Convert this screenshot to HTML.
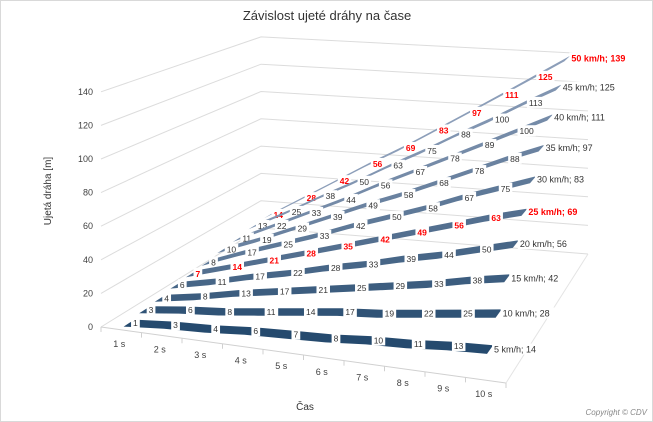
<!DOCTYPE html>
<html><head><meta charset="utf-8"><style>
html,body{margin:0;padding:0;background:#fff;}
#wrap{position:relative;width:651px;height:420px;border:1px solid #d9d9d9;overflow:hidden;font-family:"Liberation Sans",sans-serif;}
svg{position:absolute;left:0;top:0;}
</style></head><body>
<div id="wrap">
<svg id="chart" width="653" height="422">
<text x="326" y="19" text-anchor="middle" font-size="13" fill="#333">Závislost ujeté dráhy na čase</text>
<text transform="translate(50,190) rotate(-90)" text-anchor="middle" font-size="10" fill="#333">Ujetá dráha [m]</text>
<text x="304" y="409" text-anchor="middle" font-size="10" fill="#333">Čas</text>
<text x="646" y="414" text-anchor="end" font-size="8" font-style="italic" fill="#888">Copyright © CDV</text>
</svg>
</div>
<script>
const categories = ["1 s","2 s","3 s","4 s","5 s","6 s","7 s","8 s","9 s","10 s"];
const seriesNames = ["5 km/h","10 km/h","15 km/h","20 km/h","25 km/h","30 km/h","35 km/h","40 km/h","45 km/h","50 km/h"];
const s5  = [1,3,4,6,7,8,10,11,13,14];
const s10 = [3,6,8,11,14,17,19,22,25,28];
const s15 = [4,8,13,17,21,25,29,33,38,42];
const s20 = [6,11,17,22,28,33,39,44,50,56];
const s25 = [7,14,21,28,35,42,49,56,63,69];
const s30 = [8,17,25,33,42,50,58,67,75,83];
const s35 = [10,19,29,39,49,58,68,78,88,97];
const s40 = [11,22,33,44,56,67,78,89,100,111];
const s45 = [13,25,38,50,63,75,88,100,113,125];
const s50 = [14,28,42,56,69,83,97,111,125,139];
const yTicks = [0,20,40,60,80,100,120,140];
const redSeries = [4,9];
const allSeries = [s5,s10,s15,s20,s25,s30,s35,s40,s45,s50];

const svg = document.getElementById('chart');
const NS = 'http://www.w3.org/2000/svg';
const FL=[100,326], FR=[505,382], BL=[260,227], BR=[587,253];
const kFL=1.68,kFR=1.75,kBL=1.365,kBR=1.43;
const yMax=140;
function lerp(a,b,t){return [a[0]+(b[0]-a[0])*t,a[1]+(b[1]-a[1])*t];}
function P(u,w,v){
  const A=lerp(FL,FR,u),B=lerp(BL,BR,u),b=lerp(A,B,w);
  const kA=kFL+(kFR-kFL)*u,kB=kBL+(kBR-kBL)*u,k=kA+(kB-kA)*w;
  return [b[0],b[1]-v*k];
}
function mk(tag,attrs){const e=document.createElementNS(NS,tag);for(const a in attrs)e.setAttribute(a,attrs[a]);svg.appendChild(e);return e;}
const gridG=document.createElementNS(NS,'g');svg.appendChild(gridG);
// gridlines (left wall + back wall)
yTicks.forEach(v=>{
  const a=P(0,0,v),b=P(0,1,v),c=P(1,1,v);
  const pl=document.createElementNS(NS,'polyline');
  pl.setAttribute('points',`${a[0]},${a[1]} ${b[0]},${b[1]} ${c[0]},${c[1]}`);
  pl.setAttribute('fill','none');pl.setAttribute('stroke','#dcdcdc');pl.setAttribute('stroke-width','1');
  
  
  gridG.appendChild(pl);
  const t=document.createElementNS(NS,'text');
  t.setAttribute('x',a[0]-8);t.setAttribute('y',a[1]+3);t.setAttribute('text-anchor','end');
  t.setAttribute('font-size','9');t.setAttribute('fill','#404040');t.textContent=v;
  
  
  gridG.appendChild(t);
});
// floor front edge + ticks + category labels
const fe=mk('line',{x1:FL[0],y1:FL[1],x2:FR[0],y2:FR[1],stroke:'#d0d0d0'});


const fr=P(1,0,0),brr=P(1,1,0);
const re=mk('line',{x1:fr[0],y1:fr[1],x2:brr[0],y2:brr[1],stroke:'#e4e4e4'});


for(let i=0;i<=categories.length;i++){
  const p=P(i/categories.length,0,0);
  const tk=mk('line',{x1:p[0],y1:p[1],x2:p[0],y2:p[1]+5,stroke:'#d0d0d0'});
  
  
}
categories.forEach((c,i)=>{
  const p=P((i+0.5)/categories.length,0,0);
  const t=mk('text',{x:p[0]-2,y:p[1]+17,'text-anchor':'middle','font-size':'9',fill:'#404040'});
  t.textContent=c;
  
  
});
// series, back to front
const n=allSeries.length;
function col(j){const a=[37,74,110],b=[140,158,185],t=j/(n-1);return `rgb(${a.map((x,q)=>Math.round(x+(b[q]-x)*t)).join(',')})`;}
const d=0.035;
for(let j=n-1;j>=0;j--){
  const vals=allSeries[j],w=(j+0.5)/n,m=vals.length;
  const g=document.createElementNS(NS,'g');svg.appendChild(g);
  
  
  const front=[],back=[];
  vals.forEach((v,i)=>{const u=(i+0.5)/m;front.push(P(u,w-d,v));back.push(P(u,w+d,v));});
  const pts=front.concat(back.reverse()).map(p=>p[0].toFixed(1)+','+p[1].toFixed(1)).join(' ');
  const poly=document.createElementNS(NS,'polygon');
  poly.setAttribute('points',pts);poly.setAttribute('fill',col(j));
  
  
  g.appendChild(poly);
  const red=redSeries.includes(j);
  vals.forEach((v,i)=>{
    const p=P((i+0.5)/m,w,v);
    const last=i===m-1;
    const txt=last?`${seriesNames[j]}; ${v}`:String(v);
    const fs=last?9:8.5;
    const wdt=txt.length*fs*0.56+4;
    const r=document.createElementNS(NS,'rect');
    r.setAttribute('x',p[0]+2);r.setAttribute('y',p[1]-6);r.setAttribute('width',wdt);r.setAttribute('height',11);r.setAttribute('fill','#fff');
    
    
    g.appendChild(r);
    const t=document.createElementNS(NS,'text');
    t.setAttribute('x',p[0]+4);t.setAttribute('y',p[1]+3);t.setAttribute('font-size',fs);
    t.setAttribute('fill',red?'#ff0000':'#333');
    if(red)t.setAttribute('font-weight','bold');
    t.textContent=txt;
    
    
    g.appendChild(t);
  });
}
</script>
</body></html>
